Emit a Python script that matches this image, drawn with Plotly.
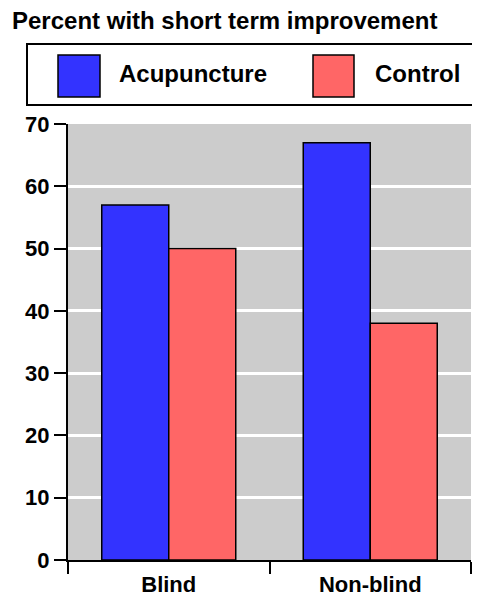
import plotly.graph_objects as go

categories = ["Blind", "Non-blind"]
acupuncture = [57, 67]
control = [50, 38]
series_names = ["Acupuncture", "Control"]
colors = ["#3333FF", "#FF6666"]
title_text = "Percent with short term improvement"

# page body has an 8px default margin; compensate
OFF = 8
W, H = 480 - OFF, 598 - OFF
L, R, T, B = 68 - OFF, 471 - OFF, 124 - OFF, 560 - OFF

def px(x):
    return (x - OFF - L) / (R - L)

def py(y):
    return (B - (y - OFF)) / (B - T)

FONT = "Liberation Sans, Arial, sans-serif"

fig = go.Figure()
for name, vals, col in zip(series_names, [acupuncture, control], colors):
    fig.add_trace(go.Bar(
        x=categories, y=vals, name=name,
        marker=dict(color=col, line=dict(color="black", width=1.5)),
        showlegend=False,
    ))

shapes = [
    dict(type="rect", xref="paper", yref="paper",
         x0=px(27), x1=px(490), y0=py(105), y1=py(44),
         line=dict(color="black", width=2), fillcolor="rgba(0,0,0,0)", layer="above"),
]
annotations = []
legend_pos = [(58, 100, 117), (313, 354, 373)]
for (sx0, sx1, tx), name, col in zip(legend_pos, series_names, colors):
    shapes.append(dict(type="rect", xref="paper", yref="paper",
                       x0=px(sx0), x1=px(sx1), y0=py(97), y1=py(55),
                       fillcolor=col, line=dict(color="black", width=1.5)))
    annotations.append(dict(xref="paper", yref="paper", x=px(tx), y=py(73),
                            xanchor="left", yanchor="middle", showarrow=False,
                            text="<b>%s</b>" % name,
                            font=dict(family=FONT, size=24, color="black")))

fig.update_layout(
    width=W, height=H,
    margin=dict(l=L, r=W - R, t=T, b=H - B, pad=0, autoexpand=False),
    paper_bgcolor="white", plot_bgcolor="#CCCCCC",
    barmode="group", bargap=0.335, bargroupgap=0,
    title=dict(text="<b>%s</b>" % title_text, x=(12 - OFF) / W, xanchor="left",
               y=1 - (21 - OFF) / H, yanchor="middle",
               font=dict(family=FONT, size=24, color="black")),
    shapes=shapes, annotations=annotations,
    showlegend=False,
    xaxis=dict(showline=True, linecolor="black", linewidth=2, automargin=False,
               ticks="outside", ticklen=12, tickwidth=2, tickcolor="black",
               tickson="boundaries", showgrid=False, ticklabelstandoff=4,
               tickfont=dict(family=FONT, size=22, color="black"),
               tickprefix="<b>", ticksuffix="</b>"),
    yaxis=dict(range=[0, 70], dtick=10, showline=True, linecolor="black", linewidth=2,
               automargin=False,
               ticks="outside", ticklen=12, tickwidth=2, tickcolor="black",
               showgrid=True, gridcolor="white", gridwidth=3, zeroline=False,
               tickfont=dict(family=FONT, size=22, color="black"),
               tickprefix="<b>", ticksuffix="</b>"),
)

fig.write_html("out.html")
